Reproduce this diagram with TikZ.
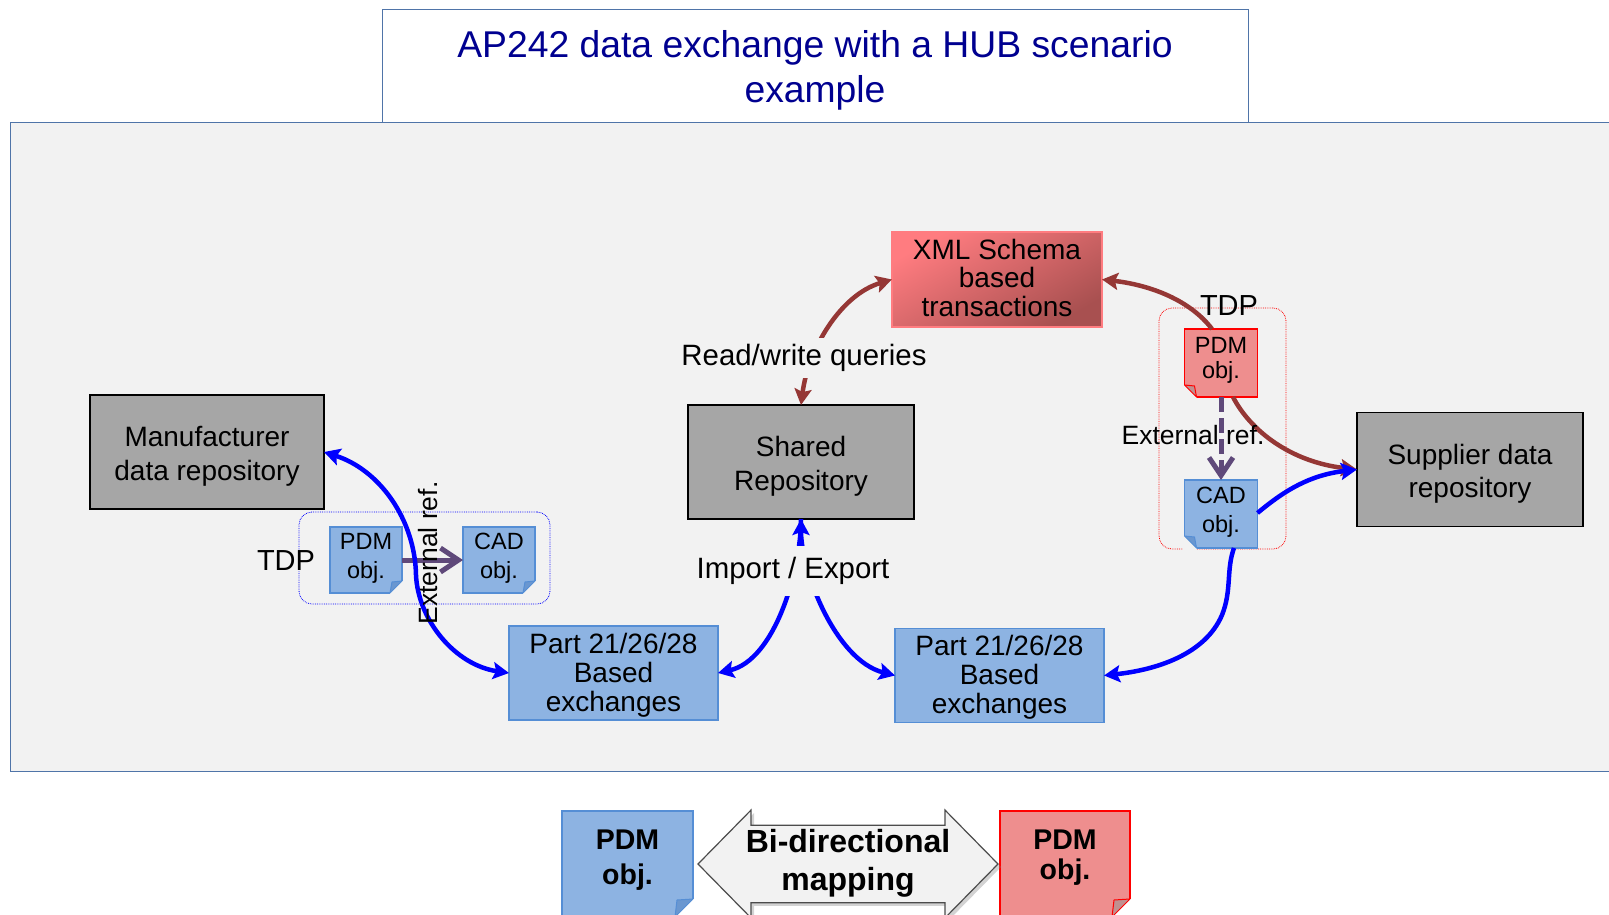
\documentclass[tikz,border=0pt]{standalone}
\usepackage{fontspec}
\setmainfont{Liberation Sans}
\usetikzlibrary{positioning,calc,arrows.meta,shapes.arrows,shadows}
\definecolor{panelgrey}{HTML}{F2F2F2}
\definecolor{panelline}{HTML}{4F74A8}
\definecolor{titleblue}{HTML}{000090}
\definecolor{repogrey}{HTML}{A6A6A6}
\definecolor{noteblue}{HTML}{8DB3E2}
\definecolor{noteline}{HTML}{558ED5}
\definecolor{foldblue}{HTML}{6A97D0}
\definecolor{notered}{HTML}{EE8E8E}
\definecolor{foldred}{HTML}{C09090}
\definecolor{xmltop}{HTML}{FF7C80}
\definecolor{xmlbottom}{HTML}{A85050}
\definecolor{linkbrown}{HTML}{953735}
\definecolor{linkpurple}{HTML}{5F497A}
\tikzset{
    boxtext/.style={font=\fontsize{28}{33}\selectfont, align=center, inner sep=0pt, outer sep=0pt},
    repo/.style={boxtext, font=\fontsize{28}{33.5}\selectfont, text depth=0pt, text height=56pt, draw=black, line width=1.5pt, fill=repogrey, minimum width=226pt, minimum height=114pt},
    part/.style={boxtext, font=\fontsize{28}{29}\selectfont, text depth=1.5pt, draw=noteline, line width=1.2pt, fill=noteblue, minimum width=209pt, minimum height=94pt},
    tdpbox/.style={densely dotted, line width=.8pt, rounded corners=13pt, inner sep=0pt},
    note/.style={font=\fontsize{23.5}{#1}\selectfont, align=center, inner sep=0pt, outer sep=0pt, text depth=9pt, minimum width=72pt, minimum height=66pt, line width=1.2pt},
    tag/.style={font=\fontsize{29.4}{33}\selectfont, fill=panelgrey, inner sep=0pt},
    plaintag/.style={font=\fontsize{26.5}{30}\selectfont, inner sep=0pt}
}
\begin{document}
\begin{tikzpicture}[x=1pt, y=-1pt]
            \useasboundingbox (0,0) rectangle (1609,915);
            \clip (0,0) rectangle (1609,915);
            \node (panel) at (825,446.5) [draw=panelline, line width=.8pt, fill=panelgrey, minimum width=1630pt, minimum height=649pt] {};
            \node (title) at (815,65.5) [draw=panelline, line width=.8pt, fill=white, text=titleblue, align=center, font=\fontsize{37.3}{45}\selectfont, text depth=0pt, text height=74pt, minimum width=866pt, minimum height=113pt, inner sep=0pt] {AP242 data exchange with a HUB scenario\\example};

            \node (tdpL) at (424.5,558) [tdpbox, draw=blue, minimum width=251pt, minimum height=92pt] {};
            \node (tdpR) at (1222.5,428.5) [tdpbox, draw=red, minimum width=127pt, minimum height=241pt] {};

            \node (manufacturer) at (207,452) [repo, minimum width=234pt] {Manufacturer\\data repository};
            \node (shared) at (801,462) [repo] {Shared\\Repository};
            \node (supplier) at (1470,469.5) [repo] {Supplier data\\repository};
            \node (xml) at (997,279.5) [boxtext, font=\fontsize{28}{28.5}\selectfont, text depth=3.5pt, draw=xmltop, line width=1.2pt, shade, top color=xmltop, bottom color=xmlbottom, shading angle=30, minimum width=210pt, minimum height=95pt] {XML Schema\\based\\transactions};
            \node (partL) at (613.5,673) [part] {Part 21/26/28\\Based\\exchanges};
            \node (partR) at (999.5,675.5) [part] {Part 21/26/28\\Based\\exchanges};

            \node (pdmL) at (366,560) [note=29, draw=noteline, fill=noteblue] {PDM\\obj.};
            \node (cadL) [note=29, draw=noteline, fill=noteblue, right=61pt of pdmL] {CAD\\obj.};
            \node (pdmR) at (1221,363) [note=25, text depth=11pt, draw=red, fill=notered, minimum width=73pt, minimum height=68pt] {PDM\\obj.};
            \node (cadR) [note=29, text depth=8pt, draw=noteline, fill=noteblue, minimum width=73pt, minimum height=68pt, below=83pt of pdmR] {CAD\\obj.};

            \node (legendL) at (627.5,864) [boxtext, font=\fontsize{28.5}{35}\selectfont\bfseries, text depth=14pt, draw=noteline, line width=1.2pt, fill=noteblue, minimum width=131pt, minimum height=106pt] {PDM\\obj.};
            \node (legendR) at (1065,864) [boxtext, font=\fontsize{28.5}{30}\selectfont\bfseries, text depth=18pt, draw=red, line width=1.2pt, fill=notered, minimum width=130pt, minimum height=106pt] {PDM\\obj.};
            \node (mapping) at (848,864) [font=\fontsize{32}{38}\selectfont\bfseries, align=center, inner sep=0pt, inner xsep=-12pt, text depth=9pt, double arrow, double arrow head extend=14pt, double arrow tip angle=91, draw=black!70, line width=1.2pt, fill=panelgrey, drop shadow={opacity=.35, shadow xshift=3pt, shadow yshift=-3pt}, minimum width=108pt, minimum height=300pt] {Bi-directional\\mapping};

            \foreach \n/\s/\bg/\ln/\fl in {pdmL/12/panelgrey/noteline/foldblue, cadL/12/panelgrey/noteline/foldblue, legendL/18/white/noteline/foldblue, legendR/18/white/red/foldred} {
                \coordinate (c) at (\n.east |- \n.south);
                \fill[\bg] ($(c)+(-\s,0)$) -- ($(c)+(0,-\s)$) -- ($(c)+(2,-\s)$) -- ($(c)+(2,2)$) -- ($(c)+(-\s,2)$) -- cycle;
                \draw[draw=\ln, fill=\fl, line width=1pt, line join=round] ($(c)+(-\s,0)$) -- ($(c)+(-\s+2,-\s+1)$) -- ($(c)+(0,-\s)$) -- cycle;
            }
            \foreach \n/\s/\ln/\fl in {pdmR/12/red/foldred, cadR/12/noteline/foldblue} {
                \coordinate (c) at (\n.west |- \n.south);
                \fill[panelgrey] ($(c)+(\s,0)$) -- ($(c)+(0,-\s)$) -- ($(c)+(-2,-\s)$) -- ($(c)+(-2,2)$) -- ($(c)+(\s,2)$) -- cycle;
                \draw[draw=\ln, fill=\fl, line width=1pt, line join=round] ($(c)+(0,-\s)$) -- ($(c)+(\s-2,-\s+1)$) -- ($(c)+(\s,0)$) -- cycle;
            }

            \begin{scope} [linkpurple, line width=5pt]
            \draw[-{Straight Barb[length=18pt, width=24pt]}] (pdmL.east) -- (cadL.west);
            \draw[-{Straight Barb[length=18pt, width=24pt]}, dash pattern=on 15pt off 6pt] (pdmR.south) -- (cadR.north);
            \end{scope}

            \begin{scope} [line width=4.5pt, >={Stealth[length=16pt, width=17pt, inset=3pt]}]
            \draw[->, linkbrown] ([xshift=-9pt]pdmR.north) .. controls (1190,300) and (1150,285) .. (xml.east);
            \draw[->, linkbrown] ([xshift=12pt]pdmR.south) .. controls (1250,430) and (1290,462) .. (supplier.west);
            \draw[<->, linkbrown] (shared.north) .. controls (808,350) and (840,295) .. (xml.west);
            \draw[<->, blue] (manufacturer.east) .. controls (380,470) and (415,520) .. (416,575) .. controls (418,620) and (455,665) .. (partL.west);
            \draw[->, blue] (shared.south) .. controls (801,570) and (775,660) .. (partL.east);
            \draw[<->, blue] (shared.south) .. controls (801,570) and (835,660) .. (partR.west);
            \draw[->, blue] ([yshift=1pt]cadR.east) .. controls (1285,490) and (1310,475) .. (supplier.west);
            \draw[->, blue] ([xshift=13pt]cadR.south) .. controls (1226,570) and (1232,590) .. (1222,615) .. controls (1205,655) and (1155,670) .. (partR.east);
            \end{scope}

            \node (queries) at (804,358) [tag, minimum height=40pt] {Read/write queries};
            \node (import) at (793,571) [tag, minimum height=50pt] {Import / Export};
            \node (tdpLabelL) at (286,561) [tag, font=\fontsize{29}{33}\selectfont] {TDP};
            \node (tdpLabelR) at (1229,306) [tag, font=\fontsize{29}{33}\selectfont, fill=none] {TDP};
            \node (refL) at (428,553) [plaintag, rotate=90] {External ref.};
            \node (refR) at (1193,435) [plaintag] {External ref.};
\end{tikzpicture}
\end{document}
